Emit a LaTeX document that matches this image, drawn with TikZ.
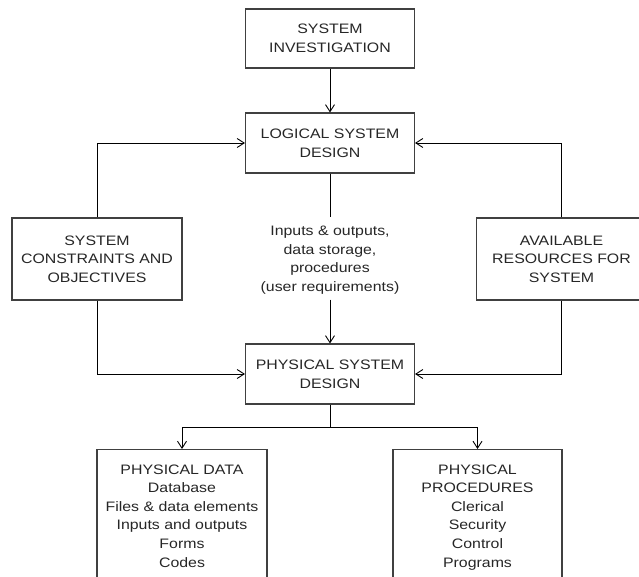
\documentclass[tikz,border=0pt]{standalone}
\usepackage{fontspec}
\setmainfont{Liberation Sans}[FakeStretch=1.16]
\usetikzlibrary{arrows.meta}
\begin{document}
\begin{tikzpicture}[x=1pt,y=-1pt,
  txt/.style={font=\fontsize{13.7pt}{18.6pt}\selectfont, text=black!85, align=center},
  box/.style={txt, draw=black!75, line width=1.1pt, minimum width=169pt, inner sep=0pt},
  lbl/.style={txt, inner sep=0pt},
  conn/.style={line width=0.9pt, black},
  arr/.style={conn, -{Straight Barb[length=7pt,width=9pt]}}
]
\useasboundingbox (0,0) rectangle (639,577);
\clip (0,0) rectangle (639,577);

% main design chain
\node[box, minimum height=59pt] (inv) at (330,38.5) {SYSTEM\\INVESTIGATION};
\node[box, minimum height=60pt] (lsd) at (330,143) {LOGICAL SYSTEM\\DESIGN};
\node[box, minimum height=60pt] (psd) at (330,374) {PHYSICAL SYSTEM\\DESIGN};

% side inputs
\node[box, minimum width=170pt, minimum height=82pt] (con) at (97,259) {SYSTEM\\CONSTRAINTS AND\\OBJECTIVES};
\node[box, minimum width=170pt, minimum height=82pt] (res) at (561.5,259) {AVAILABLE\\RESOURCES FOR\\SYSTEM};

% requirements passed from logical to physical design
\node[lbl, anchor=north] (req) at (330,226) {Inputs \& outputs,\\data storage,\\procedures\\(user requirements)};

% outputs of physical design
\node[box, minimum width=170pt, minimum height=170pt, anchor=north] (pdata) at (182,449) {};
\node[lbl, anchor=north] (pdtxt) at (182,464.3) {PHYSICAL DATA\\Database\\Files \& data elements\\Inputs and outputs\\Forms\\Codes};
\node[box, minimum width=169pt, minimum height=170pt, anchor=north] (pproc) at (477.5,449) {};
\node[lbl, anchor=north] (pptxt) at (477.5,464.3) {PHYSICAL\\PROCEDURES\\Clerical\\Security\\Control\\Programs};

% connectors
\draw[arr] (inv) -- (lsd);
\draw[conn, shorten >=9pt] (lsd) -- (req);
\draw[arr, shorten <=5pt] (req) -- (psd);
\draw[arr] (con.north) |- (lsd.west);
\draw[arr] (res.north) |- (lsd.east);
\draw[arr] (con.south) |- (psd.west);
\draw[arr] (res.south) |- (psd.east);
\coordinate (split) at (330,427);
\draw[conn] (psd.south) -- (split);
\draw[arr] (split) -| (pdata.north);
\draw[arr] (split) -| (pproc.north);
\end{tikzpicture}
\end{document}
